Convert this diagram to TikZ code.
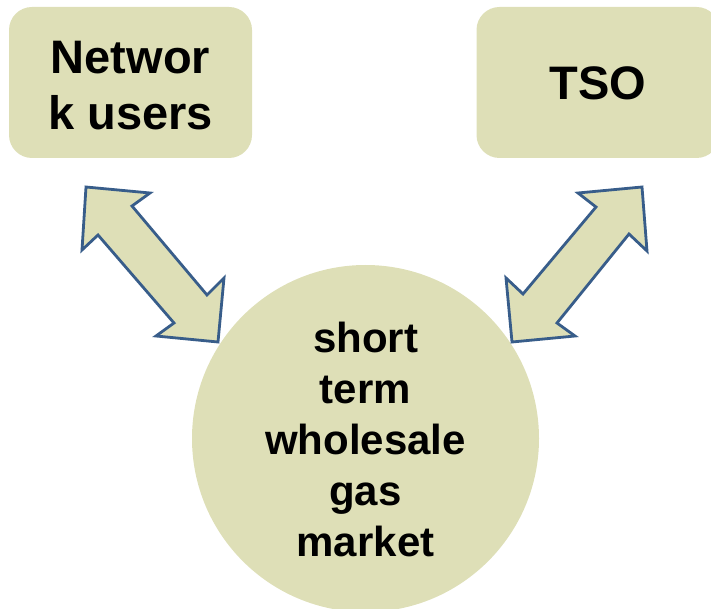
\documentclass[tikz,border=0pt]{standalone}
\usepackage{fontspec}
\setmainfont{Liberation Sans}
\begin{document}
\begin{tikzpicture}[x=1pt,y=-1pt]
\definecolor{olivefill}{RGB}{222,223,183}
\definecolor{arrowline}{RGB}{56,93,138}
\tikzset{
  topbox/.style={rectangle, rounded corners=23pt, fill=olivefill, draw=none,
    minimum width=243pt, minimum height=151pt, inner sep=0pt},
  boxtext/.style={align=center, inner sep=0pt, font=\fontsize{47}{56}\selectfont\bfseries},
  market/.style={circle, fill=olivefill, draw=none, minimum size=347pt, inner sep=0pt},
  markettext/.style={align=center, inner sep=0pt, font=\fontsize{42}{51}\selectfont\bfseries},
  blockarrow/.style={fill=olivefill, draw=arrowline, line width=2.8pt, line join=miter}
}
\useasboundingbox (0,0) rectangle (711,609);
\clip (0,0) rectangle (711,609);

\node[topbox] (users) at (130.5,82.5) {};
\node[boxtext] (userstext) at (130.5,85.5) {Networ\\k users};
\node[topbox] (tso) at (598,82.5) {};
\node[boxtext] (tsotext) at (598,83) {TSO};
\node[market] (mkt) at (365.5,438.5) {};
\node[markettext] (mkttext) at (365.5,439) {short\\term\\wholesale\\gas\\market};

% left double arrow
\draw[blockarrow] (86,187) -- (150,193) -- (132,206) -- (207,295) -- (224,278)
  -- (218,342) -- (156,336) -- (174,323) -- (98,235) -- (82,250) -- cycle;
% right double arrow
\draw[blockarrow] (642,187) -- (578,193) -- (596,207) -- (523,294) -- (506,278)
  -- (512,342) -- (575,336) -- (557,323) -- (629,234) -- (647,251) -- cycle;
\end{tikzpicture}
\end{document}
